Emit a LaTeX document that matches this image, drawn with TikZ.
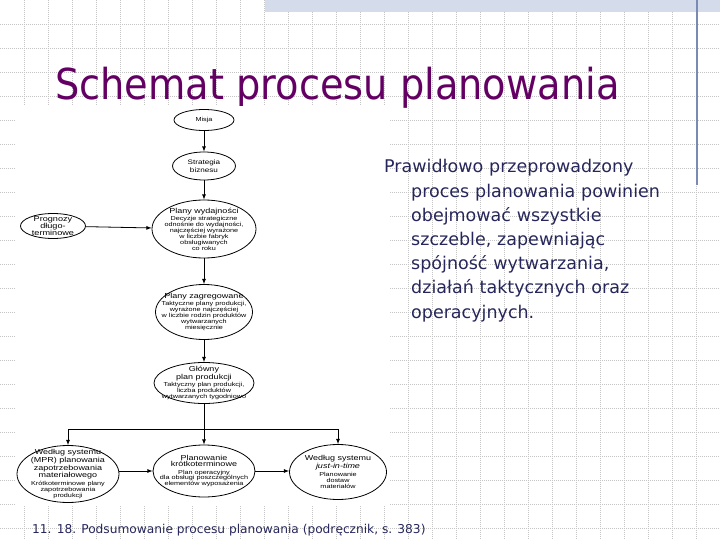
\documentclass[tikz,border=0pt]{standalone}
\usepackage{fontspec}
\setmainfont{DejaVu Sans}
\newfontfamily\titlefont{DejaVu Sans Condensed}
\newfontfamily\diafont[FakeStretch=1.25]{Liberation Sans}
\usetikzlibrary{shapes.geometric}
\usetikzlibrary{positioning}
\definecolor{titlepurple}{RGB}{100,0,100}
\definecolor{bodynavy}{RGB}{38,38,92}
\definecolor{gridgray}{RGB}{196,196,196}
\definecolor{barblue}{RGB}{212,220,236}
\definecolor{lineblue}{RGB}{122,138,180}
\newcommand{\hd}[1]{{\fontsize{7.2}{7.8}\selectfont #1}}
\tikzset{
  ell/.style={draw, ellipse, line width=0.8pt, fill=white, inner sep=0pt},
  txt/.style={align=center, inner sep=0pt, font=\diafont\fontsize{5.8}{5.9}\selectfont},
  flow/.style={-latex, line width=0.8pt},
  gridline/.style={gridgray, line width=0.6pt, dash pattern=on 0.8pt off 1.2pt}
}

\begin{document}
\begin{tikzpicture}[x={(1pt,0pt)}, y={(0pt,-1pt)}]
\useasboundingbox (0,0) rectangle (720,540);

% slide background
\fill[white] (0,0) rectangle (720,540);
\foreach \gx in {24,48,...,712} \draw[gridline] (\gx,0) -- (\gx,540);
\foreach \gy in {24,48,...,528} \draw[gridline] (0,\gy) -- (720,\gy);
\fill[barblue] (265,0) rectangle (720,12);
\draw[lineblue, line width=1.2pt] (697,0) -- (697,185);

% title
\node[anchor=base west, inner sep=0pt, text=titlepurple, font=\titlefont\fontsize{42.6}{42.6}\selectfont] (TITLE) at (55,100) {Schemat procesu planowania};

%%%diagram
\fill[white] (15,106) rectangle (390,506);

\node[ell, minimum width=60, minimum height=21] (MIS) at (204,120) {};
\node[txt] at (MIS) {Misja};

\node[ell, minimum width=63, minimum height=28] (STR) at (204,166) {};
\node[txt, font=\diafont\fontsize{6.5}{7.5}\selectfont] at (STR) {Strategia\\biznesu};

\node[ell, minimum width=104, minimum height=58] (PW) at (204,229) {};
\node[txt] at (PW) {\hd{Plany wydajności}\\[1.5pt]Decyzje strategiczne\\odnośnie do wydajności,\\najczęściej wyrażone\\w liczbie fabryk\\obsługiwanych\\co roku};

\node[ell, minimum width=65, minimum height=25] (PD) at (53,226) {};
\node[txt, font=\diafont\fontsize{7.3}{7}\selectfont] at (PD) {Prognozy\\długo-\\terminowe};

\node[ell, minimum width=97, minimum height=55] (PZ) at (204,312) {};
\node[txt] at (PZ) {\hd{Plany zagregowane}\\[1.5pt]Taktyczne plany produkcji,\\wyrażone najczęściej\\w liczbie rodzin produktów\\wytwarzanych\\miesięcznie};

\node[ell, minimum width=100, minimum height=41] (GPP) at (204,383) {};
\node[txt] at (GPP) {\hd{Główny}\\\hd{plan produkcji}\\[1.5pt]Taktyczny plan produkcji,\\liczba produktów\\wytwarzanych tygodniowo};

\node[ell, minimum width=102, minimum height=52] (PK) at (204,471) {};
\node[txt] at (PK) {\hd{Planowanie}\\\hd{krótkoterminowe}\\[2pt]Plan operacyjny\\dla obsługi poszczególnych\\elementów wyposażenia};

\node[ell, minimum width=102, minimum height=57] (MRP) at (68,474) {};
\node[txt] at (MRP) {\hd{Według systemu}\\\hd{(MPR) planowania}\\\hd{zapotrzebowania}\\\hd{materiałowego}\\[1.5pt]Krótkoterminowe plany\\zapotrzebowania\\produkcji};

\node[ell, minimum width=97, minimum height=55] (JIT) at (338,472) {};
\node[txt] at (JIT) {\hd{Według systemu}\\\hd{\itshape just-in-time}\\[2pt]Planowanie\\dostaw\\materiałów};

% connectors
\draw[flow] (MIS) -- (STR);
\draw[flow] (STR) -- (PW);
\draw[flow] (PD) -- (PW);
\draw[flow] (PW) -- (PZ);
\draw[flow] (PZ) -- (GPP);
\draw[flow] (GPP) -- (PK);
\coordinate (BUS) at (204,429);
\draw[flow] (BUS) -| (MRP.north);
\draw[flow] (BUS) -| (JIT.north);
\draw[flow] (MRP.east |- PK.west) -- (PK.west);
\draw[flow] (PK.east) -- (JIT.west |- PK.east);

% text on the right
\node[anchor=base west, inner sep=0pt, text=bodynavy, text width=320, font=\fontsize{17.5}{24.2}\selectfont] (NOTE) at (384,173) {\leftskip=27pt\hspace*{-27pt}Prawidłowo przeprowadzony\\proces planowania powinien\\obejmować wszystkie\\szczeble, zapewniając\\spójność wytwarzania,\\działań taktycznych oraz\\operacyjnych.\par};

% caption
\node[anchor=base west, inner sep=0pt, text=bodynavy, font=\fontsize{12.2}{12.2}\selectfont] (CAP) at (32,533) {11. 18. Podsumowanie procesu planowania (podręcznik, s. 383)};

\end{tikzpicture}
\end{document}
